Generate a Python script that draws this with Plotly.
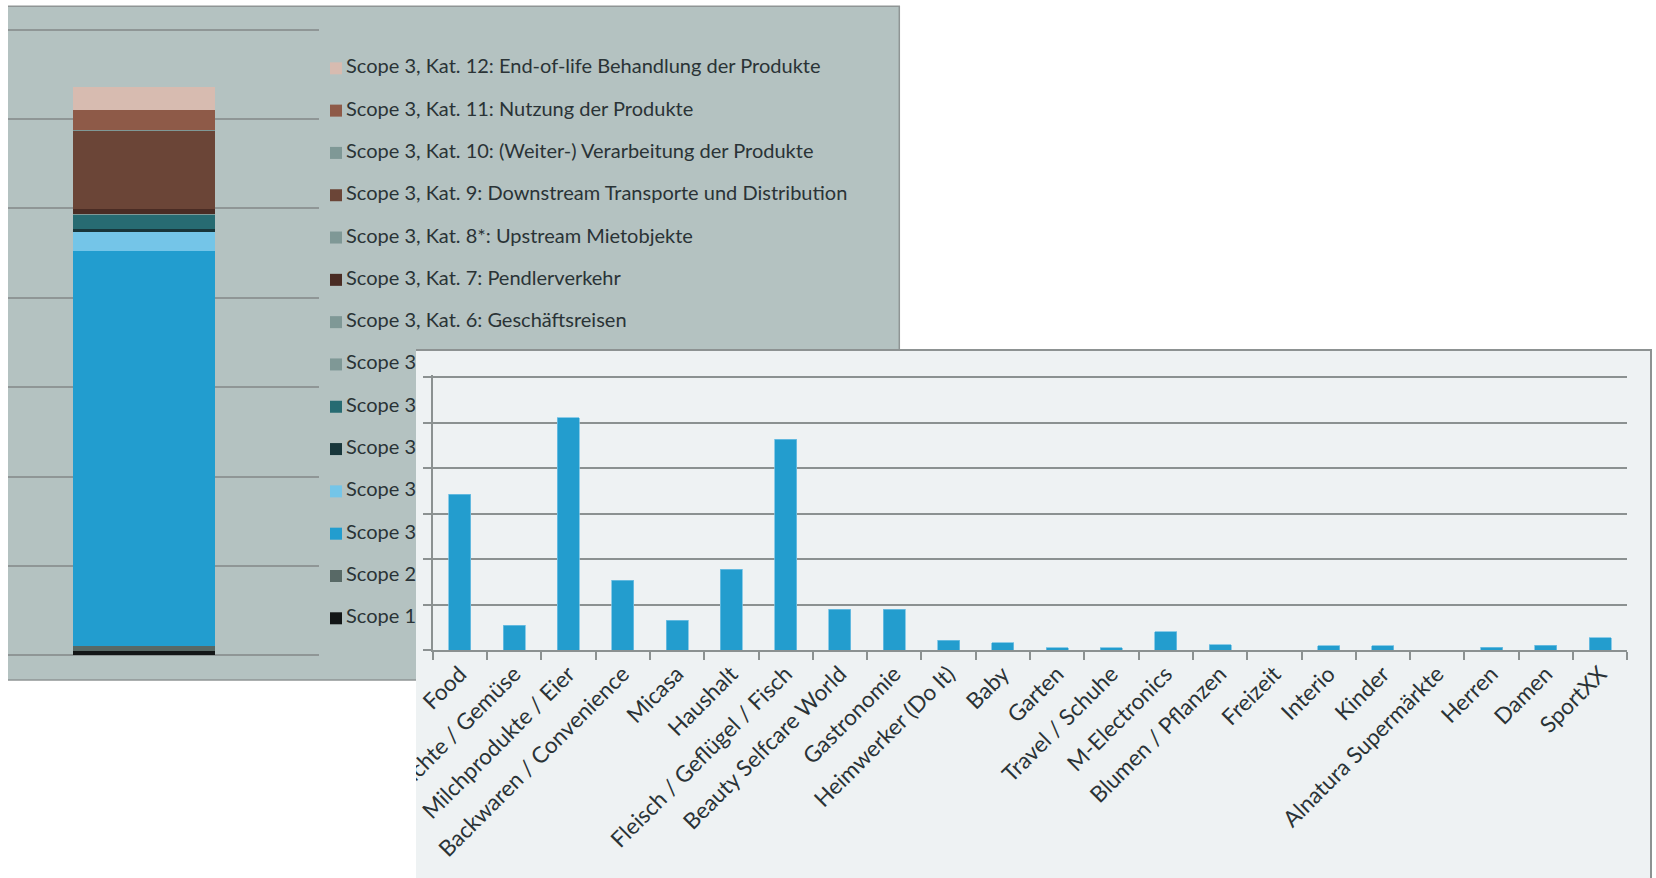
import plotly.graph_objects as go

W, H = 1656, 878


def px_x(v):
    return v / W


def px_y(v):
    return 1 - v / H


# ---------------- data ----------------
stack_label = ["Gesamt"]

series_names = [
    "Scope 3, Kat. 12: End-of-life Behandlung der Produkte",
    "Scope 3, Kat. 11: Nutzung der Produkte",
    "Scope 3, Kat. 10: (Weiter-) Verarbeitung der Produkte",
    "Scope 3, Kat. 9: Downstream Transporte und Distribution",
    "Scope 3, Kat. 8*: Upstream Mietobjekte",
    "Scope 3, Kat. 7: Pendlerverkehr",
    "Scope 3, Kat. 6: Geschäftsreisen",
    "Scope 3, Kat. 5: Abfall",
    "Scope 3, Kat. 4: Upstream Transporte und Distribution",
    "Scope 3, Kat. 3: Brennstoff- und energiebezogene Emissionen",
    "Scope 3, Kat. 2: Kapitalgüter",
    "Scope 3, Kat. 1: Eingekaufte Güter und Dienstleistungen",
    "Scope 2",
    "Scope 1",
]
series_values = [0.257, 0.224, 0.003, 0.873, 0.004, 0.056, 0.006,
                 0.005, 0.157, 0.034, 0.213, 4.420, 0.058, 0.046]

categories = [
    "Food", "Früchte / Gemüse", "Milchprodukte / Eier", "Backwaren / Convenience",
    "Micasa", "Haushalt", "Fleisch / Geflügel / Fisch", "Beauty Selfcare World",
    "Gastronomie", "Heimwerker (Do It)", "Baby", "Garten", "Travel / Schuhe",
    "M-Electronics", "Blumen / Pflanzen", "Freizeit", "Interio", "Kinder",
    "Alnatura Supermärkte", "Herren", "Damen", "SportXX",
]
category_values = [17.15, 2.7, 25.55, 7.7, 3.3, 8.9, 23.2, 4.5, 4.5, 1.05, 0.82,
                   0.27, 0.27, 2.0, 0.6, 0.0, 0.47, 0.45, 0.0, 0.33, 0.55, 1.36]

# ---------------- styles ----------------
series_colors = [
    "#d7bbb0", "#8e5a48", "#7f9896", "#6b4537", "#7f9896", "#4a2c24", "#7f9896",
    "#7f9896", "#276b72", "#18363b", "#74c5e8", "#229dcf", "#586966", "#131617",
]
BAR_BLUE = "#239dce"
LEFT_BG = "#b4c2c1"
RIGHT_BG = "#eef2f3"
GRID = "#8b9191"
TEXT = "#2a3336"
FONT = "Lato"
FS = 20
FS_TICK = 22.5

LEG_MARK_X = 336
LEG_TEXT_X = 346

fig = go.Figure()

# left stacked column (bottom segment first)
for name, val, col in reversed(list(zip(series_names, series_values, series_colors))):
    fig.add_trace(go.Bar(
        x=stack_label, y=[val], name=name, width=0.5,
        marker=dict(color=col, line=dict(width=0)),
        xaxis="x", yaxis="y", showlegend=False, hoverinfo="name+y",
    ))

# hand-drawn legend (so the lower panel can cover it)
fig.add_trace(go.Scatter(
    x=[LEG_MARK_X] * len(series_names), y=series_names, mode="markers",
    marker=dict(symbol="square", size=12, color=series_colors, line=dict(width=0)),
    xaxis="x2", yaxis="y2", showlegend=False, cliponaxis=False, hoverinfo="skip",
))
fig.add_trace(go.Scatter(
    x=[LEG_TEXT_X] * len(series_names), y=series_names, mode="text",
    text=series_names, textposition="middle right",
    textfont=dict(family=FONT, size=FS, color=TEXT),
    xaxis="x2", yaxis="y2", showlegend=False, cliponaxis=False, hoverinfo="skip",
))

# empty subplot whose background acts as the lower panel
fig.add_trace(go.Scatter(x=[], y=[], xaxis="x3", yaxis="y3", showlegend=False, hoverinfo="skip"))

# lower column chart
fig.add_trace(go.Bar(
    x=categories, y=category_values, width=0.405,
    marker=dict(color=BAR_BLUE, line=dict(color="#72c1e3", width=0.8)),
    xaxis="x4", yaxis="y4", showlegend=False,
))

hidden = dict(showgrid=False, zeroline=False, showline=False, showticklabels=False,
              ticks="", automargin=False)

# left chart geometry
L_ZERO, L_STEP = 655.3, 89.37
L_TOP, L_BOT = 6.0, 680.0
L_CX, L_BARPX = 144.2, 142.5
u = L_BARPX / 0.5

# lower chart geometry
B_ZERO, B_STEP = 650.0, 45.45 / 5.0
B_LEFT, B_RIGHT = 432.7, 1627.3
B_TOPVAL = 30.2

fig.update_layout(
    width=W, height=H, autosize=False,
    margin=dict(l=0, r=0, t=0, b=0, pad=0, autoexpand=False),
    paper_bgcolor="white", plot_bgcolor=RIGHT_BG,
    barmode="stack", showlegend=False,
    font=dict(family=FONT, color=TEXT, size=FS),
    xaxis=dict(domain=[px_x(8), px_x(319)], anchor="y", type="category",
               range=[-(L_CX - 8) / u, (319 - L_CX) / u], **hidden),
    yaxis=dict(domain=[px_y(L_BOT), px_y(L_TOP)], anchor="x",
               range=[-(L_BOT - L_ZERO) / L_STEP, (L_ZERO - L_TOP) / L_STEP],
               tick0=0, dtick=1, showgrid=True, gridcolor="#8f9696", gridwidth=1.5,
               zeroline=False, showline=False, showticklabels=False, ticks="",
               automargin=False),
    xaxis2=dict(domain=[px_x(320), px_x(899)], anchor="y2", range=[320, 899], **hidden),
    yaxis2=dict(domain=[px_y(L_BOT), px_y(L_TOP)], anchor="x2", type="category",
                categoryorder="array", categoryarray=series_names,
                range=[13 + (L_BOT - 618.3) / 42.3, -(68.3 - L_TOP) / 42.3], **hidden),
    xaxis3=dict(domain=[px_x(416), px_x(1652)], anchor="y3", range=[0, 1], **hidden),
    yaxis3=dict(domain=[0, px_y(350)], anchor="x3", range=[0, 1], **hidden),
    xaxis4=dict(domain=[px_x(B_LEFT), px_x(B_RIGHT)], anchor="y4", type="category",
                range=[-0.5, len(categories) - 0.5], showgrid=False, zeroline=False,
                showline=True, linecolor=GRID, linewidth=2,
                ticks="outside", tickson="boundaries", ticklen=8, tickwidth=1.5,
                tickcolor=GRID, tickangle=-45, automargin=False,
                tickfont=dict(family=FONT, size=FS_TICK, color=TEXT)),
    yaxis4=dict(domain=[px_y(B_ZERO), px_y(B_ZERO - B_TOPVAL * B_STEP)], anchor="x4",
                range=[0, B_TOPVAL], tick0=0, dtick=5, showgrid=True, gridcolor=GRID,
                gridwidth=2, zeroline=False, showline=True, linecolor=GRID, linewidth=2,
                ticks="outside", ticklen=8, tickwidth=1.5, tickcolor=GRID,
                showticklabels=False, automargin=False),
)

shapes = [
    # left panel background and border (below everything)
    dict(type="rect", xref="paper", yref="paper", layer="below",
         x0=px_x(8), x1=px_x(899.5), y0=px_y(680), y1=px_y(6),
         fillcolor=LEFT_BG, line=dict(width=0)),
    dict(type="line", xref="paper", yref="paper", layer="below",
         x0=px_x(8), x1=px_x(900), y0=px_y(6.3), y1=px_y(6.3),
         line=dict(color="#8f9595", width=1.5)),
    dict(type="line", xref="paper", yref="paper", layer="below",
         x0=px_x(899.3), x1=px_x(899.3), y0=px_y(680), y1=px_y(6),
         line=dict(color="#8f9595", width=1.5)),
    dict(type="line", xref="paper", yref="paper", layer="below",
         x0=px_x(8), x1=px_x(900), y0=px_y(680), y1=px_y(680),
         line=dict(color="#8f9595", width=1.5)),
    # white mask below the left panel (clips the lower panel's labels)
    dict(type="rect", xref="paper", yref="paper", layer="above",
         x0=0, x1=px_x(416), y0=0, y1=px_y(681),
         fillcolor="white", line=dict(width=0)),
    # lower panel border
    dict(type="line", xref="paper", yref="paper", layer="above",
         x0=px_x(416), x1=px_x(1652), y0=px_y(350), y1=px_y(350),
         line=dict(color="#8d9292", width=2)),
    dict(type="line", xref="paper", yref="paper", layer="above",
         x0=px_x(1651), x1=px_x(1651), y0=0, y1=px_y(350),
         line=dict(color="#8d9292", width=2)),
]
fig.update_layout(shapes=shapes)

fig.write_html("out.html", config={"displayModeBar": False})
